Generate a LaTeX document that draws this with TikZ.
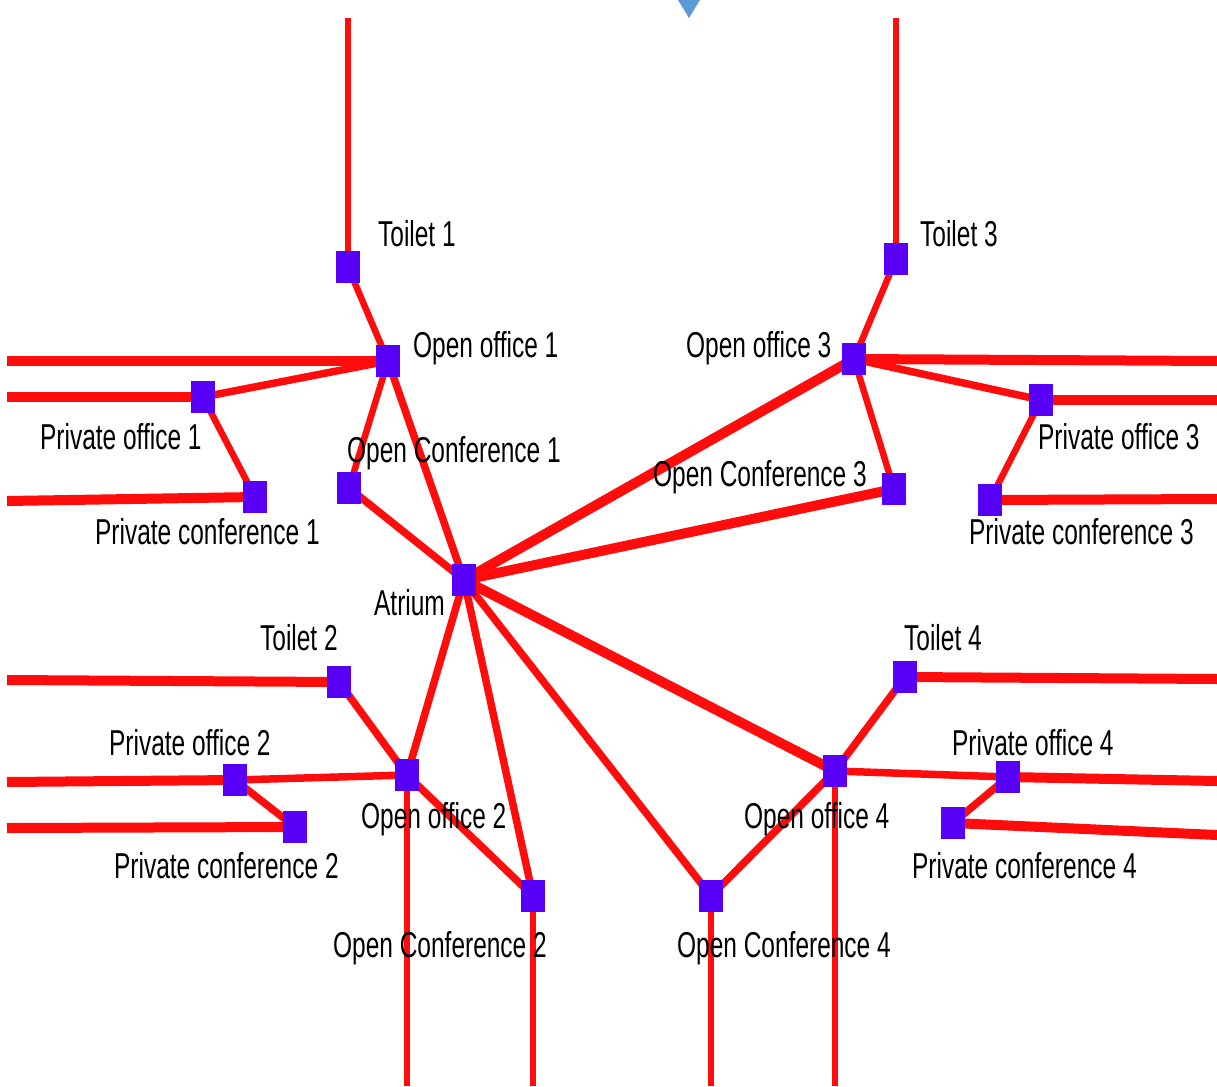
\documentclass[tikz,border=0pt]{standalone}
\usepackage{fontspec}
\setmainfont{Liberation Sans}
\definecolor{edgered}{RGB}{255,12,12}
\definecolor{roomblue}{RGB}{88,0,245}
\definecolor{markblue}{RGB}{91,155,213}
\begin{document}
\begin{tikzpicture}[x=1pt,y=-1pt,
  room/.style={fill=roomblue,draw=none,minimum width=23pt,minimum height=32pt,inner sep=0pt},
  lbl/.style={font=\fontsize{36}{36}\selectfont,inner sep=0pt,anchor=base west,xscale=0.68},
  wide/.style={draw=edgered,line width=10pt},
  mid/.style={draw=edgered,line width=7.5pt},
  thin/.style={draw=edgered,line width=6.5pt}]
\useasboundingbox (0,0) rectangle (1217,1086);
\fill[white] (0,0) rectangle (1217,1086);
% marker
\fill[markblue] (678,0) -- (700,0) -- (689,18) -- cycle;
% rooms
\node[room] (t1) at (348,267) {};
\node[room] (oo1) at (388,361) {};
\node[room] (po1) at (203,397) {};
\node[room] (pc1) at (255,497) {};
\node[room] (oc1) at (349,488) {};
\node[room] (at) at (464,580) {};
\node[room] (t3) at (896,259) {};
\node[room] (oo3) at (854,359) {};
\node[room] (po3) at (1041,400) {};
\node[room] (oc3) at (894,489) {};
\node[room] (pc3) at (990,500) {};
\node[room] (t2) at (339,682) {};
\node[room] (oo2) at (407,775) {};
\node[room] (po2) at (235,780) {};
\node[room] (pc2) at (295,827) {};
\node[room] (oc2) at (533,896) {};
\node[room] (t4) at (905,677) {};
\node[room] (oo4) at (835,771) {};
\node[room] (po4) at (1008,777) {};
\node[room] (pc4) at (953,823) {};
\node[room] (oc4) at (711,896) {};
% free ends
\coordinate (e-t1) at (348,18);
\coordinate (e-t3) at (896,18);
\coordinate (e-oo1) at (7,361);
\coordinate (e-po1) at (7,397);
\coordinate (e-pc1) at (7,501);
\coordinate (e-oo3) at (1217,361);
\coordinate (e-po3) at (1217,400);
\coordinate (e-pc3) at (1217,499);
\coordinate (e-t2) at (7,680);
\coordinate (e-po2) at (7,782);
\coordinate (e-pc2) at (7,828);
\coordinate (e-t4) at (1217,679);
\coordinate (e-po4) at (1217,781);
\coordinate (e-pc4) at (1217,835);
\coordinate (e-oo2) at (407,1086);
\coordinate (e-oc2) at (533,1086);
\coordinate (e-oc4) at (711,1086);
\coordinate (e-oo4) at (835,1086);
% edges
\path[thin] (t1.center) -- (e-t1);
\path[thin] (t3.center) -- (e-t3);
\path[thin] (t1.center) -- (oo1.center);
\path[thin] (t3.center) -- (oo3.center);
\path[wide] (oo1.center) -- (e-oo1);
\path[mid] (oo1.center) -- (po1.center);
\path[wide] (po1.center) -- (e-po1);
\path[thin] (po1.center) -- (pc1.center);
\path[wide] (pc1.center) -- (e-pc1);
\path[thin] (oo1.center) -- (oc1.center);
\path[mid] (oc1.center) -- (at.center);
\path[mid] (oo1.center) -- (at.center);
\path[wide] (oo3.center) -- (e-oo3);
\path[mid] (oo3.center) -- (po3.center);
\path[wide] (po3.center) -- (e-po3);
\path[thin] (po3.center) -- (pc3.center);
\path[wide] (pc3.center) -- (e-pc3);
\path[thin] (oo3.center) -- (oc3.center);
\path[wide] (oo3.center) -- (at.center);
\path[wide] (oc3.center) -- (at.center);
\path[mid] (at.center) -- (oo2.center);
\path[mid] (at.center) -- (oc2.center);
\path[mid] (at.center) -- (oc4.center);
\path[wide] (at.center) -- (oo4.center);
\path[wide] (t2.center) -- (e-t2);
\path[mid] (t2.center) -- (oo2.center);
\path[mid] (oo2.center) -- (po2.center);
\path[wide] (po2.center) -- (e-po2);
\path[mid] (po2.center) -- (pc2.center);
\path[wide] (pc2.center) -- (e-pc2);
\path[mid] (oo2.center) -- (oc2.center);
\path[thin] (oo2.center) -- (e-oo2);
\path[thin] (oc2.center) -- (e-oc2);
\path[mid] (oc4.center) -- (oo4.center);
\path[thin] (oc4.center) -- (e-oc4);
\path[mid] (oo4.center) -- (t4.center);
\path[wide] (t4.center) -- (e-t4);
\path[mid] (oo4.center) -- (po4.center);
\path[wide] (po4.center) -- (e-po4);
\path[mid] (pc4.center) -- (po4.center);
\path[wide] (pc4.center) -- (e-pc4);
\path[thin] (oo4.center) -- (e-oo4);
% redraw rooms on top
\foreach \r in {t1,oo1,po1,pc1,oc1,at,t3,oo3,po3,oc3,pc3,t2,oo2,po2,pc2,oc2,t4,oo4,po4,pc4,oc4}
  \fill[roomblue] (\r.south west) rectangle (\r.north east);
% labels
\node[lbl] (l-t1) at (378,246) {Toilet 1};
\node[lbl] (l-oo1) at (413,357) {Open office 1};
\node[lbl] (l-po1) at (40,449) {Private office 1};
\node[lbl] (l-oc1) at (347,462) {Open Conference 1};
\node[lbl] (l-pc1) at (95,544) {Private conference 1};
\node[lbl] (l-at) at (374,615) {Atrium};
\node[lbl] (l-t3) at (920,246) {Toilet 3};
\node[lbl] (l-oo3) at (686,357) {Open office 3};
\node[lbl] (l-po3) at (1038,449) {Private office 3};
\node[lbl] (l-oc3) at (653,486) {Open Conference 3};
\node[lbl] (l-pc3) at (969,544) {Private conference 3};
\node[lbl] (l-t2) at (260,650) {Toilet 2};
\node[lbl] (l-po2) at (109,755) {Private office 2};
\node[lbl] (l-oo2) at (361,828) {Open office 2};
\node[lbl] (l-pc2) at (114,878) {Private conference 2};
\node[lbl] (l-oc2) at (333,957) {Open Conference 2};
\node[lbl] (l-t4) at (904,650) {Toilet 4};
\node[lbl] (l-po4) at (952,755) {Private office 4};
\node[lbl] (l-oo4) at (744,828) {Open office 4};
\node[lbl] (l-pc4) at (912,878) {Private conference 4};
\node[lbl] (l-oc4) at (677,957) {Open Conference 4};
\end{tikzpicture}
\end{document}
